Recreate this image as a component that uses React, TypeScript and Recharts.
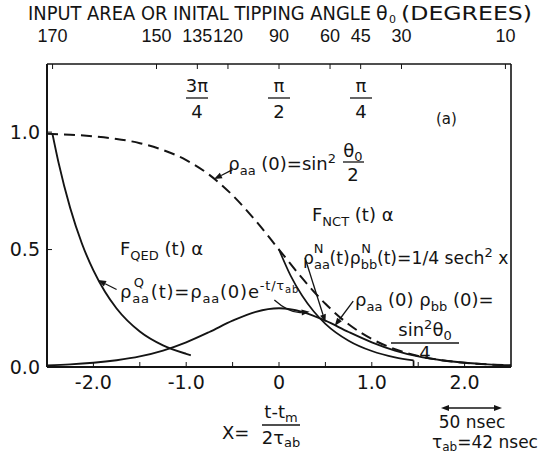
import React from 'react';
import { LineChart, Line, XAxis, YAxis, ReferenceLine } from 'recharts';

const FONT = "'DejaVu Sans', 'Liberation Sans', sans-serif";
const NARROW = "'Liberation Sans', Arial, sans-serif";
const INK = '#141414';
const SUB = 13;

// x = (t - tm) / 2 tau_ab, read every 0.25
const xGrid = [-2.5, -2.25, -2, -1.75, -1.5, -1.25, -1, -0.75, -0.5, -0.25, 0, 0.25, 0.5, 0.75, 1, 1.25, 1.5, 1.75, 2, 2.25, 2.5];
// dashed: rho_aa(0) = sin^2(theta0 / 2)
const rhoInitial = [0.993, 0.989, 0.982, 0.971, 0.953, 0.924, 0.881, 0.818, 0.731, 0.622, 0.5, 0.378, 0.269, 0.182, 0.119, 0.076, 0.047, 0.029, 0.018, 0.011, 0.007];
// bell: 1/4 sech^2 x
const nctProduct = [0.007, 0.011, 0.018, 0.029, 0.045, 0.07, 0.105, 0.149, 0.197, 0.235, 0.25, 0.235, 0.197, 0.149, 0.105, 0.07, 0.045, 0.029, 0.018, 0.011, 0.007];

// QED decay starting at theta0 = 170
const qedAX = [-2.44, -2.375, -2.25, -2.125, -2, -1.875, -1.75, -1.5, -1.25, -1, -0.95];
const qedAY = [0.99, 0.869, 0.677, 0.527, 0.411, 0.32, 0.249, 0.151, 0.092, 0.056, 0.05];
// QED decay starting at theta0 = 90
const qedBX = [0, 0.125, 0.25, 0.375, 0.5, 0.75, 1, 1.25, 1.45];
const qedBY = [0.5, 0.389, 0.303, 0.236, 0.184, 0.112, 0.068, 0.041, 0.028];
const qedBEndX = [1.45, 1.45];
const qedBEndY = [0.028, 0];

const bottomTicks = [-2, -1.5, -1, -0.5, 0, 0.5, 1, 1.5, 2];
const bottomLabels = ['-2.0', '', '-1.0', '', '0', '', '1.0', '', '2.0'];
const leftTicks = [0, 0.5, 1];
const leftLabels = ['0.0', '0.5', '1.0'];
const thetaDeg = [170, 150, 135, 120, 90, 60, 45, 30, 10];
const thetaX = [-2.44, -1.32, -0.88, -0.55, 0, 0.55, 0.88, 1.32, 2.44];

// annotation arrows, tail -> tip, in data units
const arrows = [
  { from: [-0.5, 0.84], to: [-0.7, 0.8], bend: 0 },
  { from: [-1.75, 0.33], to: [-1.95, 0.37], bend: 0 },
  { from: [-0.05, 0.285], to: [0.33, 0.235], bend: 8 },
  { from: [0.28, 0.465], to: [0.5, 0.19], bend: 0 },
  { from: [0.8, 0.28], to: [0.6, 0.175], bend: 0 },
];

const pts = (xs: number[], ys: number[]) => xs.map((x, i) => ({ x, y: ys[i] }));

const arrowShape = (bend: number) => (p: any) => {
  const { x1, y1, x2, y2 } = p;
  const mx = (x1 + x2) / 2, my = (y1 + y2) / 2;
  const len = Math.hypot(x2 - x1, y2 - y1) || 1;
  const cx = mx - ((y2 - y1) / len) * bend;
  const cy = my + ((x2 - x1) / len) * bend;
  const a = Math.atan2(y2 - cy, x2 - cx);
  const L = 8, Wd = 3;
  const bx = x2 - L * Math.cos(a), by = y2 - L * Math.sin(a);
  const head = `${x2},${y2} ${bx - Wd * Math.sin(a)},${by + Wd * Math.cos(a)} ${bx + Wd * Math.sin(a)},${by - Wd * Math.cos(a)}`;
  return (
    <g>
      <path d={`M${x1},${y1} Q${cx},${cy} ${bx},${by}`} fill="none" stroke={INK} strokeWidth={1.3} />
      <polygon points={head} fill={INK} />
    </g>
  );
};

// rho with a subscript and optional stacked superscript
function rho(sub: string, sup: string | undefined, after: string) {
  const subW = sub.length * 8;
  const supW = sup ? 10 : 0;
  return (
    <>
      <tspan>ρ</tspan>
      <tspan dy={5} fontSize={SUB}>{sub}</tspan>
      {sup ? <tspan dx={-subW} dy={-16} fontSize={SUB}>{sup}</tspan> : null}
      <tspan dy={sup ? 11 : -5} dx={sup ? subW - supW : 0}>{after}</tspan>
    </>
  );
}

const topFractions = [
  { num: '3π', den: '4', cx: 197 },
  { num: 'π', den: '2', cx: 279 },
  { num: 'π', den: '4', cx: 361 },
];

export default function App() {
  const tickFont = { fontSize: 19, fill: INK, fontFamily: FONT };
  const topFont = { fontSize: 18, fill: INK, fontFamily: NARROW };
  return (
    <div style={{ position: 'absolute', left: 0, top: 0, width: 544, height: 454, background: '#fff' }}>
      <LineChart width={544} height={454} margin={{ top: 34, right: 32, bottom: 57, left: 7 }}>
        <XAxis
          dataKey="x"
          type="number"
          domain={[-2.5, 2.5]}
          allowDataOverflow
          ticks={bottomTicks}
          interval={0}
          tickFormatter={(v: number) => bottomLabels[bottomTicks.indexOf(v)] ?? ''}
          tickSize={-5}
          tickMargin={14}
          height={30}
          tick={tickFont}
          axisLine={{ stroke: INK, strokeWidth: 2 }}
          tickLine={{ stroke: INK, strokeWidth: 1 }}
        />
        <XAxis
          xAxisId="top"
          orientation="top"
          dataKey="x"
          type="number"
          domain={[-2.5, 2.5]}
          allowDataOverflow
          ticks={thetaX}
          interval={0}
          tickFormatter={(v: number) => String(thetaDeg[thetaX.indexOf(v)] ?? '')}
          tickSize={-5}
          tickMargin={27}
          height={30}
          tick={topFont}
          axisLine={{ stroke: INK, strokeWidth: 1.6 }}
          tickLine={{ stroke: INK, strokeWidth: 1 }}
        />
        <YAxis
          type="number"
          domain={[0, 1.29]}
          allowDataOverflow
          ticks={leftTicks}
          interval={0}
          tickFormatter={(v: number) => leftLabels[leftTicks.indexOf(v)] ?? ''}
          tickSize={-5}
          tickMargin={12}
          width={40}
          tick={tickFont}
          axisLine={{ stroke: INK, strokeWidth: 2 }}
          tickLine={{ stroke: INK, strokeWidth: 1 }}
        />
        <YAxis
          yAxisId="right"
          orientation="right"
          type="number"
          domain={[0, 1.29]}
          allowDataOverflow
          width={1}
          tick={false}
          tickLine={false}
          axisLine={{ stroke: INK, strokeWidth: 1.6 }}
        />
        <Line data={pts(xGrid, rhoInitial)} dataKey="y" type="monotone" stroke={INK} strokeWidth={2} strokeDasharray="11 6" dot={false} isAnimationActive={false} />
        <Line data={pts(xGrid, nctProduct)} dataKey="y" type="monotone" stroke={INK} strokeWidth={1.9} dot={false} isAnimationActive={false} />
        <Line data={pts(qedAX, qedAY)} dataKey="y" type="monotone" stroke={INK} strokeWidth={1.9} dot={false} isAnimationActive={false} />
        <Line data={pts(qedBX, qedBY)} dataKey="y" type="monotone" stroke={INK} strokeWidth={1.7} dot={false} isAnimationActive={false} />
        <Line data={pts(qedBEndX, qedBEndY)} dataKey="y" type="linear" stroke={INK} strokeWidth={1.7} dot={false} isAnimationActive={false} />
        {arrows.map((a, i) => (
          <ReferenceLine
            key={i}
            segment={[{ x: a.from[0], y: a.from[1] }, { x: a.to[0], y: a.to[1] }]}
            shape={arrowShape(a.bend)}
          />
        ))}
      </LineChart>

      <svg width={544} height={454} style={{ position: 'absolute', left: 0, top: 0, pointerEvents: 'none' }}
        fontFamily={FONT} fontSize={18} fill={INK}>
        <text x={28} y={20} fontSize={19} textLength={343} lengthAdjust="spacingAndGlyphs">
          INPUT AREA OR INITAL TIPPING ANGLE
        </text>
        <text x={376} y={20} fontSize={19}>θ</text>
        <text x={389} y={23} fontSize={11}>0</text>
        <text x={401} y={20} fontSize={19} textLength={131} lengthAdjust="spacingAndGlyphs">(DEGREES)</text>

        {topFractions.map((f) => (
          <g key={f.cx}>
            <text x={f.cx} y={92} textAnchor="middle">{f.num}</text>
            <line x1={f.cx - 11} x2={f.cx + 11} y1={98} y2={98} stroke={INK} strokeWidth={1.3} />
            <text x={f.cx} y={118} textAnchor="middle">{f.den}</text>
          </g>
        ))}
        <text x={436} y={124} fontSize={15}>(a)</text>

        <text x={336} y={170} textAnchor="end">
          {rho('aa', undefined, ' (0)=sin')}<tspan dy={-7} fontSize={SUB}>2</tspan>
        </text>
        <text x={353} y={157} textAnchor="middle">θ<tspan dy={4} fontSize={SUB}>0</tspan></text>
        <line x1={343} x2={364} y1={162} y2={162} stroke={INK} strokeWidth={1.3} />
        <text x={353} y={181} textAnchor="middle">2</text>

        <text x={120} y={255}>F<tspan dy={5} fontSize={SUB}>QED</tspan><tspan dy={-5}> (t) α</tspan></text>
        <text x={120} y={298} letterSpacing={0.8}>
          {rho('aa', 'Q', '(t)=')}{rho('aa', undefined, '(0)e')}
          <tspan dy={-8} fontSize={SUB}>-t/τ</tspan><tspan dy={3} fontSize={10}>ab</tspan>
        </text>

        <text x={312} y={221}>F<tspan dy={5} fontSize={SUB}>NCT</tspan><tspan dy={-5}> (t) α</tspan></text>
        <text x={303} y={264} fontSize={17.2}>
          {rho('aa', 'N', '(t)')}{rho('bb', 'N', '(t)=1/4 sech')}
          <tspan dy={-7} fontSize={SUB}>2</tspan><tspan dy={7}> x</tspan>
        </text>

        <text x={355} y={306}>{rho('aa', undefined, ' (0) ')}{rho('bb', undefined, ' (0)=')}</text>
        <text x={425} y={336} textAnchor="middle">
          sin<tspan dy={-7} fontSize={SUB}>2</tspan><tspan dy={7}>θ</tspan><tspan dy={4} fontSize={SUB}>0</tspan>
        </text>
        <line x1={391} x2={459} y1={343} y2={343} stroke={INK} strokeWidth={1.3} />
        <text x={425} y={359} textAnchor="middle">4</text>

        <text x={222} y={439}>X=</text>
        <text x={281} y={418} textAnchor="middle">t-t<tspan dy={4} fontSize={SUB}>m</tspan></text>
        <line x1={262} x2={300} y1={425} y2={425} stroke={INK} strokeWidth={1.3} />
        <text x={281} y={444} textAnchor="middle">2τ<tspan dy={3} fontSize={SUB}>ab</tspan></text>

        <line x1={447} x2={496} y1={408} y2={408} stroke={INK} strokeWidth={1.3} />
        <polygon points="441,408 449,405 449,411" fill={INK} />
        <polygon points="502,408 494,405 494,411" fill={INK} />
        <text x={472} y={428} fontSize={17} textAnchor="middle">50 nsec</text>
        <text x={485} y={448} fontSize={17} textAnchor="middle">τ<tspan dy={3} fontSize={12}>ab</tspan><tspan dy={-3}>=42 nsec</tspan></text>
      </svg>
    </div>
  );
}
